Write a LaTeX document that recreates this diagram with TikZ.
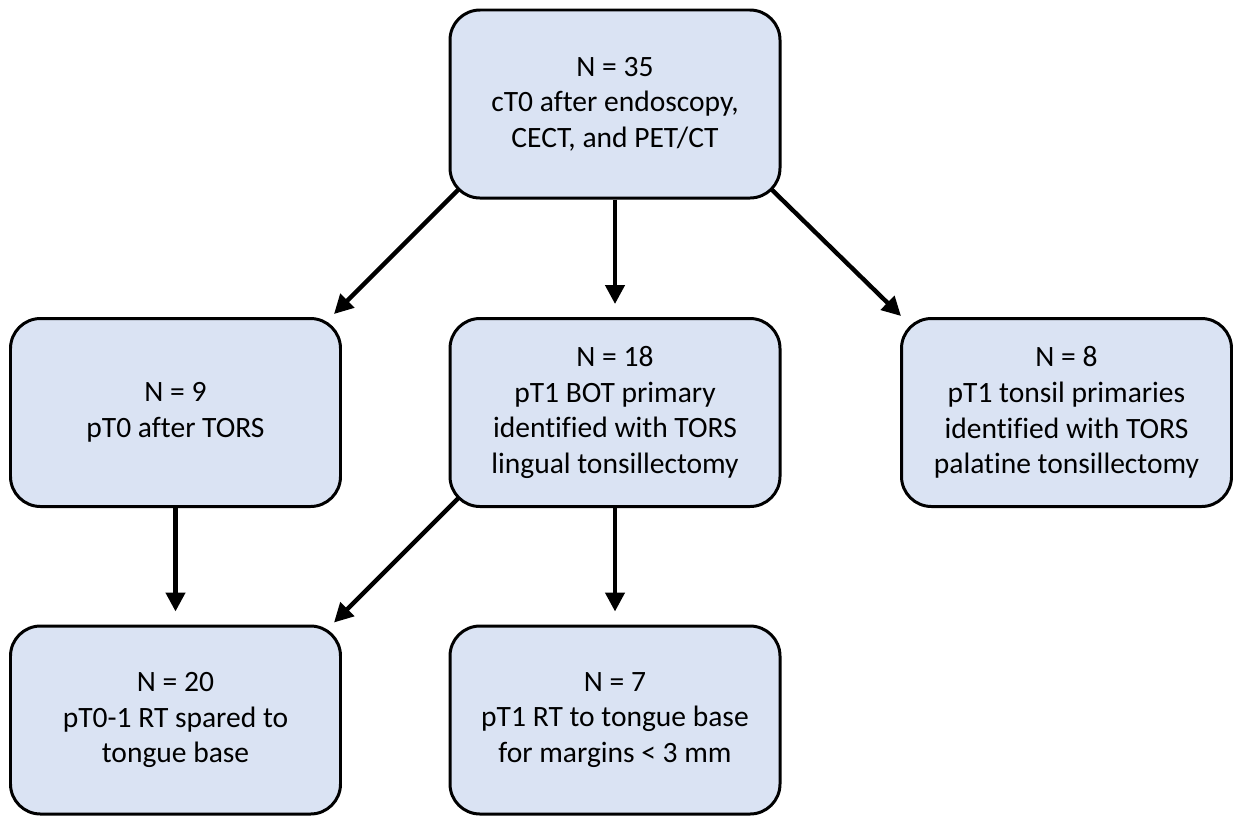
\documentclass[tikz,border=0pt]{standalone}
\usepackage{fontspec}
\setmainfont{Carlito}[Ligatures=NoCommon]
\usepackage{tikz}
\usetikzlibrary{arrows.meta,positioning,calc,backgrounds}
\usepackage{xcolor}
\definecolor{stagefill}{HTML}{DAE3F3}

\begin{document}
\begin{tikzpicture}[
  stage/.style={draw, line width=1.7pt, rounded corners=0.6cm, fill=stagefill,
    minimum width=6.6cm, minimum height=3.76cm, align=center,
    font=\fontsize{16.8}{20.3}\selectfont},
  link/.style={line width=2.5pt, -{Triangle[length=0.38cm, width=0.38cm]}},
]
\useasboundingbox (0,0) rectangle (24.66,-16.3);

\node[stage] (root) at (12.3,-2.08) {N = 35\\cT0 after endoscopy,\\CECT, and PET/CT};
\node[stage] (pT0) at (3.51,-8.25) {N = 9\\pT0 after TORS};
\node[stage] (bot) at (12.3,-8.25) {N = 18\\pT1 BOT primary\\identified with TORS\\lingual tonsillectomy};
\node[stage] (tons) at (21.33,-8.25) {N = 8\\pT1 tonsil primaries\\identified with TORS\\palatine tonsillectomy};
\node[stage] (spared) at (3.51,-14.4) {N = 20\\pT0-1 RT spared to\\tongue base};
\node[stage] (rt) at (12.3,-14.4) {N = 7\\pT1 RT to tongue base\\for margins < 3 mm};

\begin{scope}[on background layer]
\draw[link] ($(root.south west)+(0.3,0.3)$) -- ($(pT0.north east)+(-0.16,0.06)$);
\draw[link] ($(root.south east)+(-0.3,0.3)$) -- ($(tons.north west)+(0.02,0.02)$);
\draw[link] ($(bot.south west)+(0.3,0.3)$) -- ($(spared.north east)+(-0.16,0.04)$);
\end{scope}
\draw[link, shorten >=0.26cm] (root) -- (bot);
\draw[link, shorten >=0.26cm] (pT0) -- (spared);
\draw[link, shorten >=0.26cm] (bot) -- (rt);
\end{tikzpicture}
\end{document}
